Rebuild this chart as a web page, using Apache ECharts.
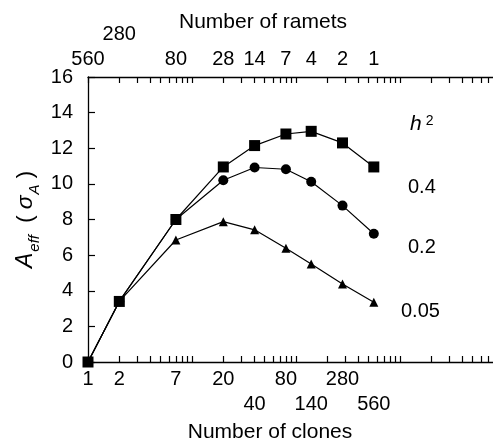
<!DOCTYPE html>
<html>
<head>
<meta charset="utf-8">
<script src="https://cdn.jsdelivr.net/npm/echarts@6/dist/echarts.min.js"></script>
<style>
html,body{margin:0;padding:0;background:#fff;}
#chart{width:493px;height:445px;}
</style>
</head>
<body>
<div id="chart"></div>
<script>
// ---- data ----
var clones = [1, 2, 7, 20, 40, 80, 140, 280, 560];
var h2_04 = [0, 3.4, 8.0, 10.95, 12.15, 12.8, 12.95, 12.3, 10.95];
var h2_02 = [0, 3.4, 8.0, 10.2, 10.92, 10.82, 10.12, 8.78, 7.2];
var h2_005 = [0, 3.4, 6.85, 7.88, 7.42, 6.38, 5.5, 4.38, 3.35];
var seriesLabels = ['0.4', '0.2', '0.05'];
var cloneTickLabels = ['1', '2', '7', '20', '40', '80', '140', '280', '560'];
var rametTickLabels = ['560', '280', '80', '28', '14', '7', '4', '2', '1'];
var yTicks = [0, 2, 4, 6, 8, 10, 12, 14, 16];

var minorTicks = [];
[1, 10, 100, 1000].forEach(function (d) {
  for (var k = 1; k <= 9; k++) minorTicks.push(k * d);
});
minorTicks.push(10000);

var FONT = '"Liberation Sans", Arial, sans-serif';
var chart = echarts.init(document.getElementById('chart'));

function mk(vals) {
  return clones.map(function (c, i) { return [c, vals[i]]; });
}
var bottomLow = {'40': 1, '140': 1, '560': 1};
var topHigh = {'280': 1};
var FS = 20;

var option = {
  backgroundColor: '#fff',
  animation: false,
  grid: {left: 88, right: -11, top: 77, bottom: 83, containLabel: false, outerBoundsMode: 'none'},
  xAxis: [
    {
      type: 'log', logBase: 10, min: 1, max: 10000, position: 'bottom',
      name: 'Number of clones', nameLocation: 'middle', nameGap: 60, nameMoveOverlap: false,
      nameTextStyle: {fontFamily: FONT, fontSize: 21, color: '#000', padding: [0, 52, 0, 0]},
      axisLine: {lineStyle: {color: '#000', width: 1.3}},
      axisTick: {inside: true, length: 6, lineStyle: {color: '#000', width: 1.2}, customValues: minorTicks},
      splitLine: {show: false},
      axisLabel: {
        customValues: clones, margin: 7, color: '#000', fontFamily: FONT, fontSize: FS,
        formatter: function (v) {
          var i = clones.indexOf(Math.round(v));
          var t = i >= 0 ? cloneTickLabels[i] : '';
          return bottomLow[t] ? '{lo|' + t + '}' : '{n|' + t + '}';
        },
        rich: {
          n: {fontFamily: FONT, fontSize: FS, color: '#000'},
          lo: {fontFamily: FONT, fontSize: FS, color: '#000', padding: [25, 0, 0, 0]}
        }
      }
    },
    {
      type: 'log', logBase: 10, min: 1, max: 10000, position: 'top',
      name: 'Number of ramets', nameLocation: 'middle', nameGap: 44, nameMoveOverlap: false,
      nameTextStyle: {fontFamily: FONT, fontSize: 21, color: '#000', padding: [0, 66, 0, 0]},
      axisLine: {lineStyle: {color: '#000', width: 1.3}},
      axisTick: {inside: true, length: 6, lineStyle: {color: '#000', width: 1.2}, customValues: minorTicks},
      splitLine: {show: false},
      axisLabel: {
        customValues: clones, margin: 8, color: '#000', fontFamily: FONT, fontSize: FS,
        formatter: function (v) {
          var i = clones.indexOf(Math.round(v));
          var t = i >= 0 ? rametTickLabels[i] : '';
          return topHigh[t] ? '{hi|' + t + '}' : '{n|' + t + '}';
        },
        rich: {
          n: {fontFamily: FONT, fontSize: FS, color: '#000'},
          hi: {fontFamily: FONT, fontSize: FS, color: '#000', padding: [0, 0, 25, 0]}
        }
      }
    }
  ],
  yAxis: {
    type: 'value', min: 0, max: 16, interval: 2,
    name: '{a|A}{sub|eff}  ( {s|σ}{sub|A} )',
    nameLocation: 'middle', nameGap: 51, nameRotate: 90, nameMoveOverlap: false,
    nameTextStyle: {
      fontFamily: FONT, fontSize: 22, color: '#000',
      rich: {
        a: {fontFamily: FONT, fontSize: 23, fontStyle: 'italic', color: '#000'},
        s: {fontFamily: FONT, fontSize: 23, fontStyle: 'italic', color: '#000'},
        sub: {fontFamily: FONT, fontSize: 15, fontStyle: 'italic', color: '#000', verticalAlign: 'bottom', padding: [0, 0, -5, 1]}
      }
    },
    axisLine: {show: true, lineStyle: {color: '#000', width: 1.3}},
    axisTick: {inside: true, length: 7, lineStyle: {color: '#000', width: 1.2}},
    splitLine: {show: false},
    axisLabel: {margin: 15, color: '#000', fontFamily: FONT, fontSize: FS,
      formatter: function (v) { return yTicks.indexOf(v) >= 0 ? String(v) : ''; }}
  },
  series: [
    {
      type: 'line', name: seriesLabels[2], data: mk(h2_005), xAxisIndex: 0,
      symbol: 'triangle', symbolSize: 9, z: 2,
      lineStyle: {color: '#000', width: 1.2}, itemStyle: {color: '#000'}
    },
    {
      type: 'line', name: seriesLabels[1], data: mk(h2_02), xAxisIndex: 0,
      symbol: 'circle', symbolSize: 10, z: 3,
      lineStyle: {color: '#000', width: 1.2}, itemStyle: {color: '#000'}
    },
    {
      type: 'line', name: seriesLabels[0], data: mk(h2_04), xAxisIndex: 0,
      symbol: 'rect', symbolSize: 11, z: 4,
      lineStyle: {color: '#000', width: 1.2}, itemStyle: {color: '#000'}
    }
  ],
  graphic: [
    {type: 'text', left: 410, top: 114, style: {
      text: '{h|h}{sup|2}', fontFamily: FONT, fill: '#000',
      rich: {h: {fontFamily: FONT, fontSize: 21, fontStyle: 'italic', fill: '#000'},
             sup: {fontFamily: FONT, fontSize: 14, fill: '#000', verticalAlign: 'top', padding: [0, 0, 6, 4]}}}},
    {type: 'text', left: 408, top: 177, style: {text: seriesLabels[0], fontFamily: FONT, fontSize: FS, fill: '#000'}},
    {type: 'text', left: 408, top: 237, style: {text: seriesLabels[1], fontFamily: FONT, fontSize: FS, fill: '#000'}},
    {type: 'text', left: 401, top: 301, style: {text: seriesLabels[2], fontFamily: FONT, fontSize: FS, fill: '#000'}}
  ]
};
chart.setOption(option);
</script>
</body>
</html>
